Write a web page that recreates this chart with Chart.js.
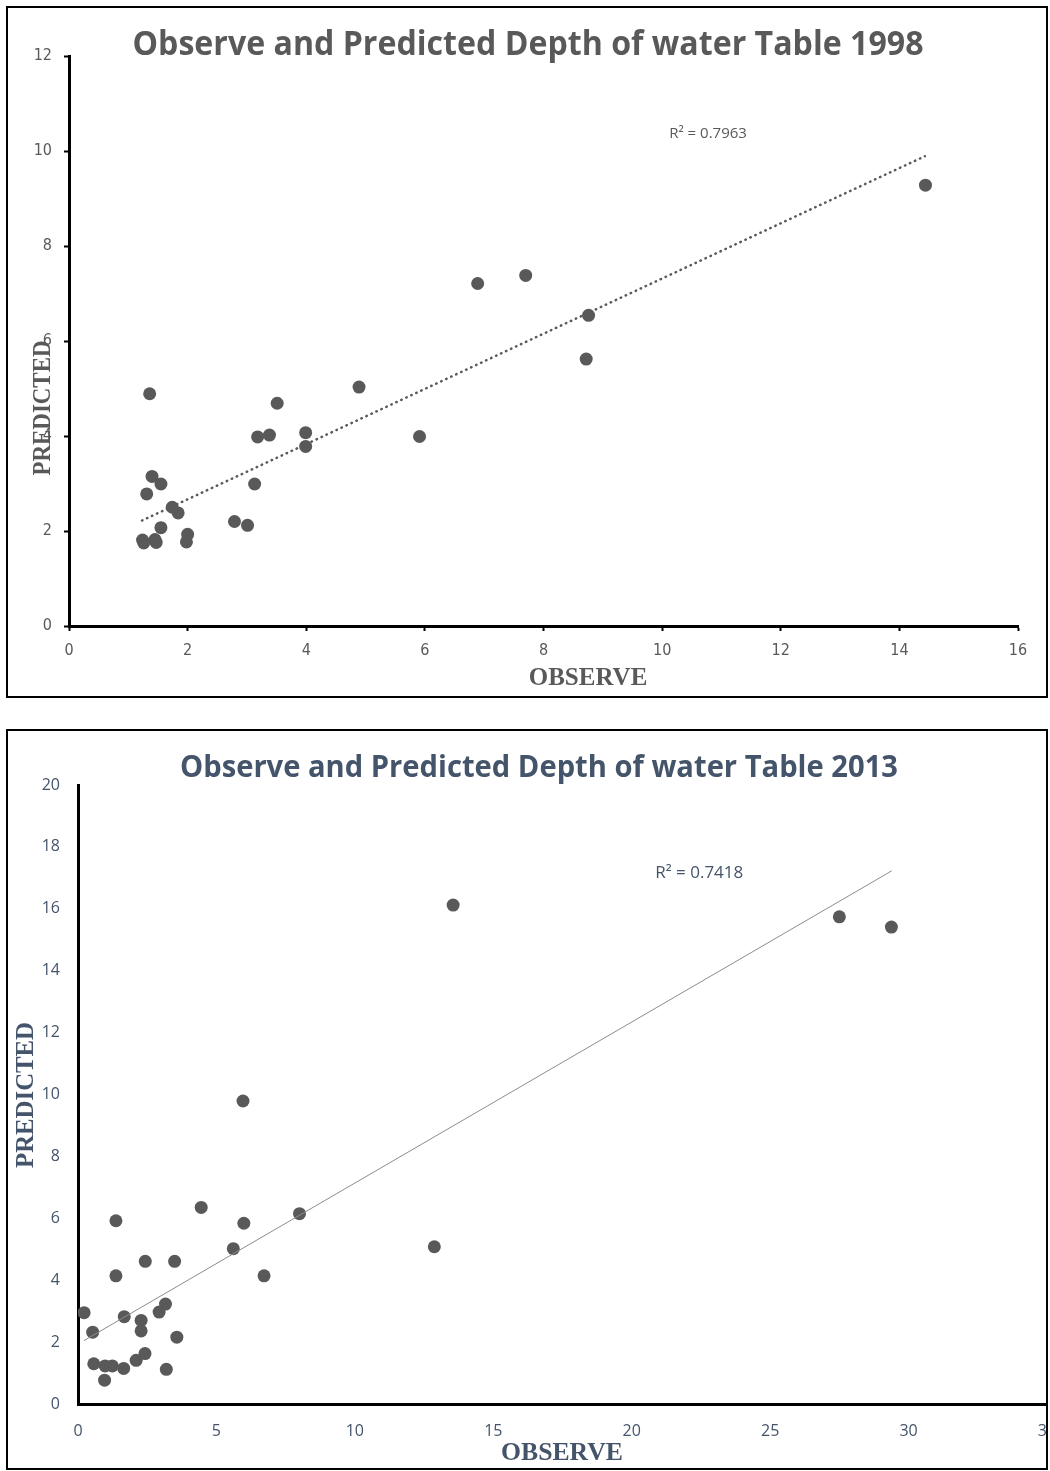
<!DOCTYPE html>
<html>
<head>
<meta charset="utf-8">
<script src="https://cdn.jsdelivr.net/npm/chart.js@4/dist/chart.umd.min.js"></script>
<style>
  body { margin: 0; background: #fff; width: 1050px; height: 1471px; position: relative; }
  .box { position: absolute; left: 6px; width: 1042px; border: 2px solid #000; box-sizing: border-box; overflow: hidden; background: #fff; }
  #box1 { top: 6px; height: 692px; }
  #box2 { top: 729px; height: 741px; }
  canvas { position: absolute; left: 0; top: 0; }
</style>
</head>
<body>
<div class="box" id="box1"><canvas id="c1" width="1038" height="688"></canvas></div>
<div class="box" id="box2"><canvas id="c2" width="1080" height="737"></canvas></div>
<script>
// 1998 observed vs predicted depth (m)
const obs1998  = [1.24, 1.26, 1.45, 1.47, 1.98, 2.00, 1.55, 1.74, 1.84, 1.31, 1.40, 1.55, 1.36, 2.79,
                  3.01, 3.13, 3.18, 3.38, 3.51, 3.99, 3.99, 4.89, 5.91, 6.89, 7.70, 8.76, 8.72, 14.44];
const pred1998 = [1.81, 1.75, 1.82, 1.76, 1.77, 1.93, 2.07, 2.50, 2.38, 2.78, 3.15, 2.99, 4.89, 2.20,
                  2.12, 2.99, 3.98, 4.02, 4.69, 4.07, 3.78, 5.03, 3.99, 7.21, 7.38, 6.54, 5.62, 9.28];
const trend1998X = [1.23, 14.43];
const trend1998Y = [2.22, 9.89];
const r2Label1998 = 'R² = 0.7963';

// 2013 observed vs predicted depth (m)
const obs2013  = [0.22, 0.53, 0.57, 0.96, 0.98, 1.24, 1.37, 1.37, 1.65, 1.67, 2.10, 2.28, 2.28, 2.42, 2.43,
                  2.93, 3.16, 3.19, 3.49, 3.57, 4.45, 5.61, 5.96, 5.99, 6.72, 8.00, 12.87, 13.55, 27.50, 29.38];
const pred2013 = [2.95, 2.32, 1.30, 0.77, 1.23, 1.23, 5.92, 4.14, 1.15, 2.82, 1.41, 2.70, 2.36, 1.63, 4.61,
                  2.97, 3.23, 1.12, 4.61, 2.16, 6.35, 5.02, 9.79, 5.84, 4.14, 6.15, 5.08, 16.12, 15.74, 15.41];
const trend2013X = [0.22, 29.38];
const trend2013Y = [2.05, 17.22];
const r2Label2013 = 'R² = 0.7418';

const toPts = (xs, ys) => xs.map((x, i) => ({ x: x, y: ys[i] }));

// titles, axis names and R² text drawn by hand so they can sit where Excel put them
const annotate = {
  id: 'annotate',
  afterDraw(chart, args, o) {
    const ctx = chart.ctx;
    ctx.save();
    ctx.textAlign = 'center';
    ctx.textBaseline = 'middle';

    ctx.fillStyle = o.titleColor;
    ctx.font = o.titleFont;
    ctx.fillText(o.title, o.titleX, o.titleY, o.titleW);

    ctx.fillStyle = o.axisColor;
    ctx.font = o.axisFont;
    ctx.fillText('OBSERVE', o.xNameX, o.xNameY, o.xNameW);
    ctx.translate(o.yNameX, o.yNameY);
    ctx.rotate(-Math.PI / 2);
    ctx.fillText('PREDICTED', 0, 0, o.yNameW);
    ctx.restore();

    ctx.save();
    ctx.fillStyle = o.r2Color;
    ctx.font = o.r2Font;
    ctx.textAlign = 'left';
    ctx.textBaseline = 'middle';
    const sx = chart.scales.x, sy = chart.scales.y;
    ctx.fillText(o.r2, sx.getPixelForValue(o.r2At[0]), sy.getPixelForValue(o.r2At[1]));
    ctx.restore();
  }
};

function makeChart(canvas, cfg) {
  return new Chart(canvas, {
    type: 'scatter',
    data: {
      datasets: [{
        data: toPts(cfg.obs, cfg.pred),
        backgroundColor: '#595959',
        borderColor: '#595959',
        borderWidth: 0,
        pointRadius: 6.5,
        order: 2
      }, {
        data: toPts(cfg.trendX, cfg.trendY),
        showLine: true,
        pointRadius: 0,
        borderColor: cfg.trendColor,
        borderWidth: cfg.trendWidth,
        borderDash: cfg.trendDash,
        borderCapStyle: 'round',
        order: 1
      }]
    },
    options: {
      responsive: false,
      animation: false,
      events: [],
      layout: { padding: cfg.padding },
      plugins: {
        legend: { display: false },
        tooltip: { enabled: false },
        annotate: cfg.text
      },
      scales: {
        x: {
          type: 'linear', min: cfg.xMin, max: cfg.xMax,
          afterFit: s => { s.height = cfg.xHeight; },
          afterBuildTicks: s => { s.ticks = cfg.xTicks.map(v => ({ value: v })); },
          grid: { drawOnChartArea: false, drawTicks: cfg.tickMarks, tickLength: 5, tickWidth: 2, tickColor: '#000' },
          border: { color: '#000', width: 3 },
          ticks: { color: cfg.tickColor, font: cfg.tickFont, padding: cfg.tickPadX, maxRotation: 0 }
        },
        y: {
          type: 'linear', min: cfg.yMin, max: cfg.yMax,
          afterFit: s => { s.width = cfg.yWidth; },
          afterBuildTicks: s => { s.ticks = cfg.yTicks.map(v => ({ value: v })); },
          grid: { drawOnChartArea: false, drawTicks: cfg.tickMarks, tickLength: 5, tickWidth: 2, tickColor: '#000' },
          border: { color: '#000', width: 3 },
          ticks: { color: cfg.tickColor, font: cfg.tickFont, padding: cfg.tickPadY }
        }
      }
    },
    plugins: [annotate]
  });
}

makeChart(document.getElementById('c1'), {
  obs: obs1998, pred: pred1998, trendX: trend1998X, trendY: trend1998Y,
  trendColor: '#595959', trendWidth: 2.5, trendDash: [0.5, 5],
  xMin: 0, xMax: 16, xTicks: [0, 2, 4, 6, 8, 10, 12, 14, 16],
  yMin: 0, yMax: 12, yTicks: [0, 2, 4, 6, 8, 10, 12],
  padding: { left: 0, top: 48, right: 28, bottom: 0 },
  xHeight: 70, yWidth: 61, tickMarks: true, tickPadX: 10, tickPadY: 12,
  tickColor: '#595959',
  tickFont: { family: "'Liberation Sans Narrow', 'DejaVu Sans Condensed', sans-serif", size: 16 },
  text: {
    title: 'Observe and Predicted Depth of water Table 1998',
    titleX: 520, titleY: 37, titleW: 791,
    titleColor: '#595959', titleFont: "bold 34px 'Open Sans', sans-serif",
    axisColor: '#595959', axisFont: "bold 25px 'Liberation Serif', serif",
    xNameX: 580, xNameY: 671, xNameW: 120, yNameX: 36, yNameY: 400, yNameW: 135,
    r2: r2Label1998, r2At: [10.12, 10.36],
    r2Color: '#595959', r2Font: "15px 'Open Sans', sans-serif"
  }
});

makeChart(document.getElementById('c2'), {
  obs: obs2013, pred: pred2013, trendX: trend2013X, trendY: trend2013Y,
  trendColor: '#8c8c8c', trendWidth: 1, trendDash: [],
  xMin: 0, xMax: 35, xTicks: [0, 5, 10, 15, 20, 25, 30, 35],
  yMin: 0, yMax: 20, yTicks: [0, 2, 4, 6, 8, 10, 12, 14, 16, 18, 20],
  padding: { left: 0, top: 54, right: 41, bottom: 0 },
  xHeight: 64, yWidth: 70, tickMarks: false, tickPadX: 18, tickPadY: 18,
  tickColor: '#44546a',
  tickFont: { family: "'Open Sans', sans-serif", size: 16 },
  text: {
    title: 'Observe and Predicted Depth of water Table 2013',
    titleX: 531, titleY: 37, titleW: 718,
    titleColor: '#44546a', titleFont: "bold 30px 'Open Sans', sans-serif",
    axisColor: '#44546a', axisFont: "bold 26px 'Liberation Serif', serif",
    xNameX: 554, xNameY: 722, xNameW: 122, yNameX: 18, yNameY: 364, yNameW: 146,
    r2: r2Label2013, r2At: [20.85, 17.16],
    r2Color: '#44546a', r2Font: "17px 'Open Sans', sans-serif"
  }
});
</script>
</body>
</html>
